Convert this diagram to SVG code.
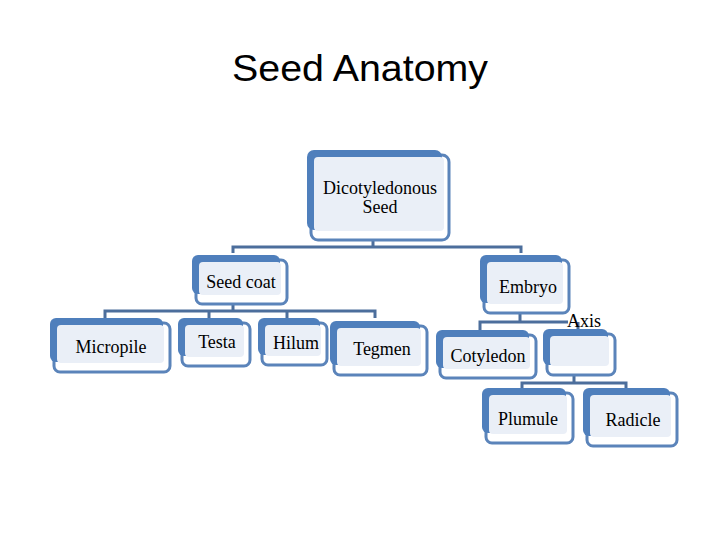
<svg xmlns="http://www.w3.org/2000/svg" width="720" height="540" viewBox="0 0 720 540">
<style>
.ol{fill:#ffffff;stroke:#5B84BA;stroke-width:3}
.bk{fill:#4F7FBC}
.lt{fill:#EAEFF7}
.t{font-family:"Liberation Serif","Times New Roman",serif;font-size:18px;fill:#000;text-anchor:middle}
.c{fill:none;stroke:#4C6E9C;stroke-width:3}
</style>
<rect width="720" height="540" fill="#ffffff"/>
<text x="360" y="81" font-family="Liberation Sans, Arial, sans-serif" font-size="37" text-anchor="middle" textLength="256" lengthAdjust="spacingAndGlyphs" fill="#000">Seed Anatomy</text>
<g id="connectors">
<path class="c" d="M373 240V247M233 253V247H521V253"/>
<path class="c" d="M233 304V311M105 318V311H375V318M209 311V318M287 311V318"/>
<path class="c" d="M520 313V322M480 330V322H568M578 322V329"/>
<path class="c" d="M574 375V383M522 389V383H626V389"/>
</g>
<g id="dicot">
<rect class="ol" x="311" y="155" width="138" height="85" rx="7"/>
<rect class="bk" x="307" y="150" width="135" height="80" rx="7"/>
<rect class="lt" x="314" y="157" width="130" height="74" rx="4"/>
<text class="t" x="380" y="194">Dicotyledonous</text>
<text class="t" x="380" y="213">Seed</text>
</g>
<g id="seedcoat">
<rect class="ol" x="196" y="260" width="91" height="44" rx="6"/>
<rect class="bk" x="192" y="255" width="88" height="39" rx="6"/>
<rect class="lt" x="199" y="262" width="82" height="33" rx="4"/>
<text class="t" x="241" y="288">Seed coat</text>
</g>
<g id="embryo">
<rect class="ol" x="484" y="260" width="85" height="53" rx="6"/>
<rect class="bk" x="480" y="255" width="82" height="48" rx="6"/>
<rect class="lt" x="487" y="262" width="76" height="42" rx="4"/>
<text class="t" x="528" y="293">Embryo</text>
</g>
<g id="micropile">
<rect class="ol" x="54" y="323" width="116" height="49" rx="6"/>
<rect class="bk" x="50" y="318" width="113" height="44" rx="6"/>
<rect class="lt" x="57" y="325" width="107" height="38" rx="4"/>
<text class="t" x="111" y="353">Micropile</text>
</g>
<g id="testa">
<rect class="ol" x="182" y="323" width="68" height="43" rx="6"/>
<rect class="bk" x="178" y="318" width="65" height="38" rx="6"/>
<rect class="lt" x="185" y="325" width="59" height="32" rx="4"/>
<text class="t" x="217" y="348">Testa</text>
</g>
<g id="hilum">
<rect class="ol" x="262" y="323" width="65" height="42" rx="6"/>
<rect class="bk" x="258" y="318" width="62" height="37" rx="6"/>
<rect class="lt" x="265" y="325" width="56" height="31" rx="4"/>
<text class="t" x="296" y="349">Hilum</text>
</g>
<g id="tegmen">
<rect class="ol" x="334" y="326" width="93" height="49" rx="6"/>
<rect class="bk" x="330" y="321" width="90" height="44" rx="6"/>
<rect class="lt" x="337" y="328" width="84" height="38" rx="4"/>
<text class="t" x="382" y="355">Tegmen</text>
</g>
<g id="cotyledon">
<rect class="ol" x="440" y="335" width="96" height="43" rx="6"/>
<rect class="bk" x="436" y="330" width="93" height="38" rx="6"/>
<rect class="lt" x="443" y="337" width="87" height="32" rx="4"/>
<text class="t" x="488" y="362">Cotyledon</text>
</g>
<g id="axis">
<rect class="ol" x="547" y="334" width="68" height="41" rx="6"/>
<rect class="bk" x="543" y="329" width="65" height="36" rx="6"/>
<rect class="lt" x="550" y="336" width="59" height="30" rx="4"/>
<text class="t" x="584" y="327">Axis</text>
</g>
<g id="plumule">
<rect class="ol" x="486" y="393" width="87" height="50" rx="6"/>
<rect class="bk" x="482" y="388" width="84" height="45" rx="6"/>
<rect class="lt" x="489" y="395" width="78" height="39" rx="4"/>
<text class="t" x="528" y="425">Plumule</text>
</g>
<g id="radicle">
<rect class="ol" x="587" y="393" width="90" height="53" rx="6"/>
<rect class="bk" x="583" y="388" width="87" height="48" rx="6"/>
<rect class="lt" x="590" y="395" width="81" height="42" rx="4"/>
<text class="t" x="633" y="426">Radicle</text>
</g>
</svg>
